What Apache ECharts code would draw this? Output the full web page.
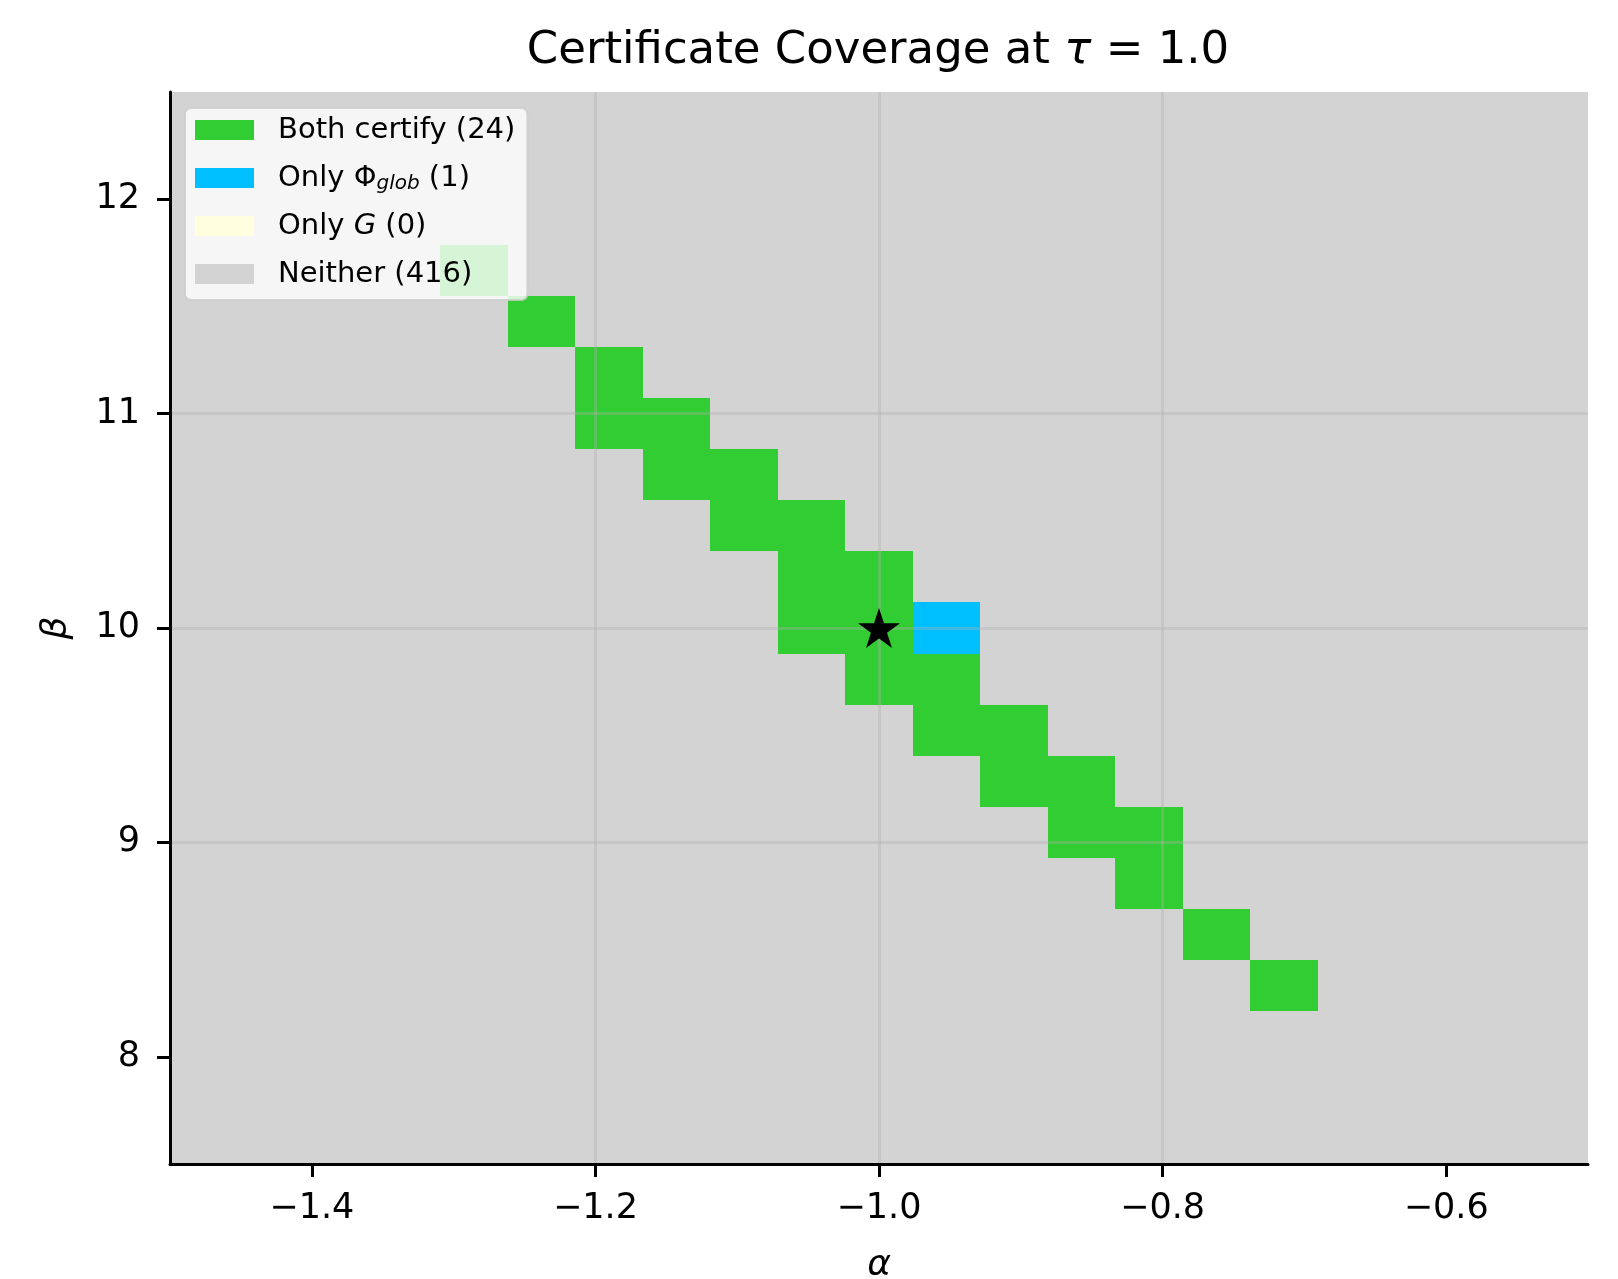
<!DOCTYPE html>
<html>
<head>
<meta charset="utf-8">
<script src="https://cdn.jsdelivr.net/npm/echarts@6/dist/echarts.min.js"></script>
<style>
  html, body { margin: 0; padding: 0; background: #fff; }
  #chart { width: 1618px; height: 1279px; }
</style>
</head>
<body>
<div id="chart"></div>
<script>
// grid of (alpha, beta) cells, 21 x 21, shown over these ranges
const alphaRange = [-1.5, -0.5];
const betaRange = [7.5, 12.5];
const nAlpha = 21;
const nBeta = 21;

// [column index, row index] of cells in each class (row 0 = lowest beta)
const bothCertify = [
  [4, 17], [5, 16], [6, 15], [6, 14], [7, 14], [7, 13], [8, 13], [8, 12],
  [9, 12], [9, 11], [9, 10], [10, 11], [10, 10], [10, 9], [11, 9], [11, 8],
  [12, 8], [12, 7], [13, 7], [13, 6], [14, 6], [14, 5], [15, 4], [16, 3]
];
const onlyPhiGlob = [[11, 10]];
const onlyG = [];

// reference point (alpha, beta)
const starPoint = [[-1.0, 10.0]];

const xTicks = [-1.4, -1.2, -1.0, -0.8, -0.6];
const yTicks = [8, 9, 10, 11, 12];

// everything else is "neither"
const taken = new Set(bothCertify.concat(onlyPhiGlob, onlyG).map(c => c[0] + ',' + c[1]));
const neither = [];
for (let i = 0; i < nAlpha; i++) {
  for (let j = 0; j < nBeta; j++) {
    if (!taken.has(i + ',' + j)) neither.push([i, j]);
  }
}

const da = (alphaRange[1] - alphaRange[0]) / nAlpha;
const db = (betaRange[1] - betaRange[0]) / nBeta;
function toRects(cells) {
  return cells.map(c => [
    alphaRange[0] + c[0] * da, betaRange[0] + c[1] * db,
    alphaRange[0] + (c[0] + 1) * da, betaRange[0] + (c[1] + 1) * db
  ]);
}

function renderCell(params, api) {
  const p0 = api.coord([api.value(0), api.value(3)]);
  const p1 = api.coord([api.value(2), api.value(1)]);
  const x0 = Math.round(p0[0]), y0 = Math.round(p0[1]);
  const x1 = Math.round(p1[0]), y1 = Math.round(p1[1]);
  return {
    type: 'rect',
    shape: { x: x0, y: y0, width: x1 - x0, height: y1 - y0 },
    style: { fill: api.visual('color') }
  };
}

function cellSeries(name, cells, color) {
  return {
    name: name,
    type: 'custom',
    renderItem: renderCell,
    data: toRects(cells),
    encode: { x: [0, 2], y: [1, 3] },
    itemStyle: { color: color },
    z: 2,
    silent: true
  };
}

// five-point star outline
function starPath() {
  const pts = [];
  for (let k = 0; k < 10; k++) {
    const r = k % 2 === 0 ? 50 : 19.1;
    const a = (-90 + 36 * k) * Math.PI / 180;
    pts.push((r * Math.cos(a)).toFixed(2) + ' ' + (r * Math.sin(a)).toFixed(2));
  }
  return 'path://M' + pts.join(' L') + ' Z';
}

const nameBoth = 'Both certify (' + bothCertify.length + ')';
const namePhi = 'Only Phi (' + onlyPhiGlob.length + ')';
const nameG = 'Only G (' + onlyG.length + ')';
const nameNeither = 'Neither (' + neither.length + ')';

const legendText = {};
legendText[nameBoth] = 'Both certify (' + bothCertify.length + ')';
legendText[namePhi] = 'Only Φ{sub|glob} (' + onlyPhiGlob.length + ')';
legendText[nameG] = 'Only {it|G} (' + onlyG.length + ')';
legendText[nameNeither] = 'Neither (' + neither.length + ')';

const font = 'DejaVu Sans';
const minus = v => (v < 0 ? '\u2212' : '') + Math.abs(v).toFixed(1);

const chart = echarts.init(document.getElementById('chart'));
chart.setOption({
  animation: false,
  backgroundColor: '#ffffff',
  title: {
    text: 'Certificate Coverage at {it|τ} = 1.0',
    left: 873,
    textAlign: 'center',
    top: 24,
    textStyle: {
      fontFamily: font, fontSize: 45, fontWeight: 'normal', color: '#000',
      rich: { it: { fontFamily: font, fontSize: 45, fontStyle: 'italic', color: '#000' } }
    }
  },
  grid: {
    left: 170, right: 30, top: 92, bottom: 115,
    containLabel: false, outerBoundsMode: 'none'
  },
  legend: {
    orient: 'vertical',
    left: 185,
    top: 108,
    z: 20,
    selectedMode: false,
    data: [nameBoth, namePhi, nameG, nameNeither],
    icon: 'rect',
    itemWidth: 59,
    itemHeight: 20,
    itemGap: 16,
    padding: [6, 12, 10, 10],
    backgroundColor: 'rgba(255,255,255,0.8)',
    borderColor: 'rgba(204,204,204,0.8)',
    borderWidth: 2,
    borderRadius: 6,
    formatter: n => legendText[n],
    textStyle: {
      fontFamily: font, fontSize: 29, color: '#000', lineHeight: 32,
      padding: [0, 0, 0, 19],
      rich: {
        sub: { fontFamily: font, fontSize: 20, fontStyle: 'italic', color: '#000', padding: [12, 0, 0, 0] },
        it: { fontFamily: font, fontSize: 29, fontStyle: 'italic', color: '#000' }
      }
    }
  },
  xAxis: {
    type: 'value',
    min: alphaRange[0],
    max: alphaRange[1],
    z: 3,
    name: 'α',
    nameLocation: 'middle',
    nameGap: 84,
    nameTextStyle: { fontFamily: font, fontSize: 36, fontStyle: 'italic', color: '#000' },
    axisLine: { onZero: false, lineStyle: { color: '#000', width: 3 } },
    axisTick: { customValues: xTicks, length: 13, lineStyle: { color: '#000', width: 3 } },
    axisLabel: {
      customValues: xTicks, margin: 27, formatter: minus,
      fontFamily: font, fontSize: 35, color: '#000'
    },
    splitLine: {
      show: true, showMinLine: false, showMaxLine: false,
      lineStyle: { color: 'rgba(176,176,176,0.35)', width: 3 }
    }
  },
  yAxis: {
    type: 'value',
    min: betaRange[0],
    max: betaRange[1],
    z: 3,
    name: 'β',
    nameLocation: 'middle',
    nameGap: 95,
    nameTextStyle: { fontFamily: font, fontSize: 36, fontStyle: 'italic', color: '#000' },
    axisLine: { onZero: false, lineStyle: { color: '#000', width: 3 } },
    axisTick: { customValues: yTicks, length: 13, lineStyle: { color: '#000', width: 3 } },
    axisLabel: {
      customValues: yTicks, margin: 30, formatter: v => String(Math.round(v)),
      fontFamily: font, fontSize: 35, color: '#000'
    },
    splitLine: {
      show: true, showMinLine: false, showMaxLine: false,
      lineStyle: { color: 'rgba(176,176,176,0.35)', width: 3 }
    }
  },
  series: [
    cellSeries(nameBoth, bothCertify, '#32cd32'),
    cellSeries(namePhi, onlyPhiGlob, '#00bfff'),
    cellSeries(nameG, onlyG, '#ffffe0'),
    cellSeries(nameNeither, neither, '#d3d3d3'),
    {
      name: 'reference',
      type: 'scatter',
      data: starPoint,
      symbol: starPath(),
      symbolSize: [42, 40],
      itemStyle: { color: '#000', opacity: 1 },
      z: 6,
      silent: true
    }
  ]
});
</script>
</body>
</html>
